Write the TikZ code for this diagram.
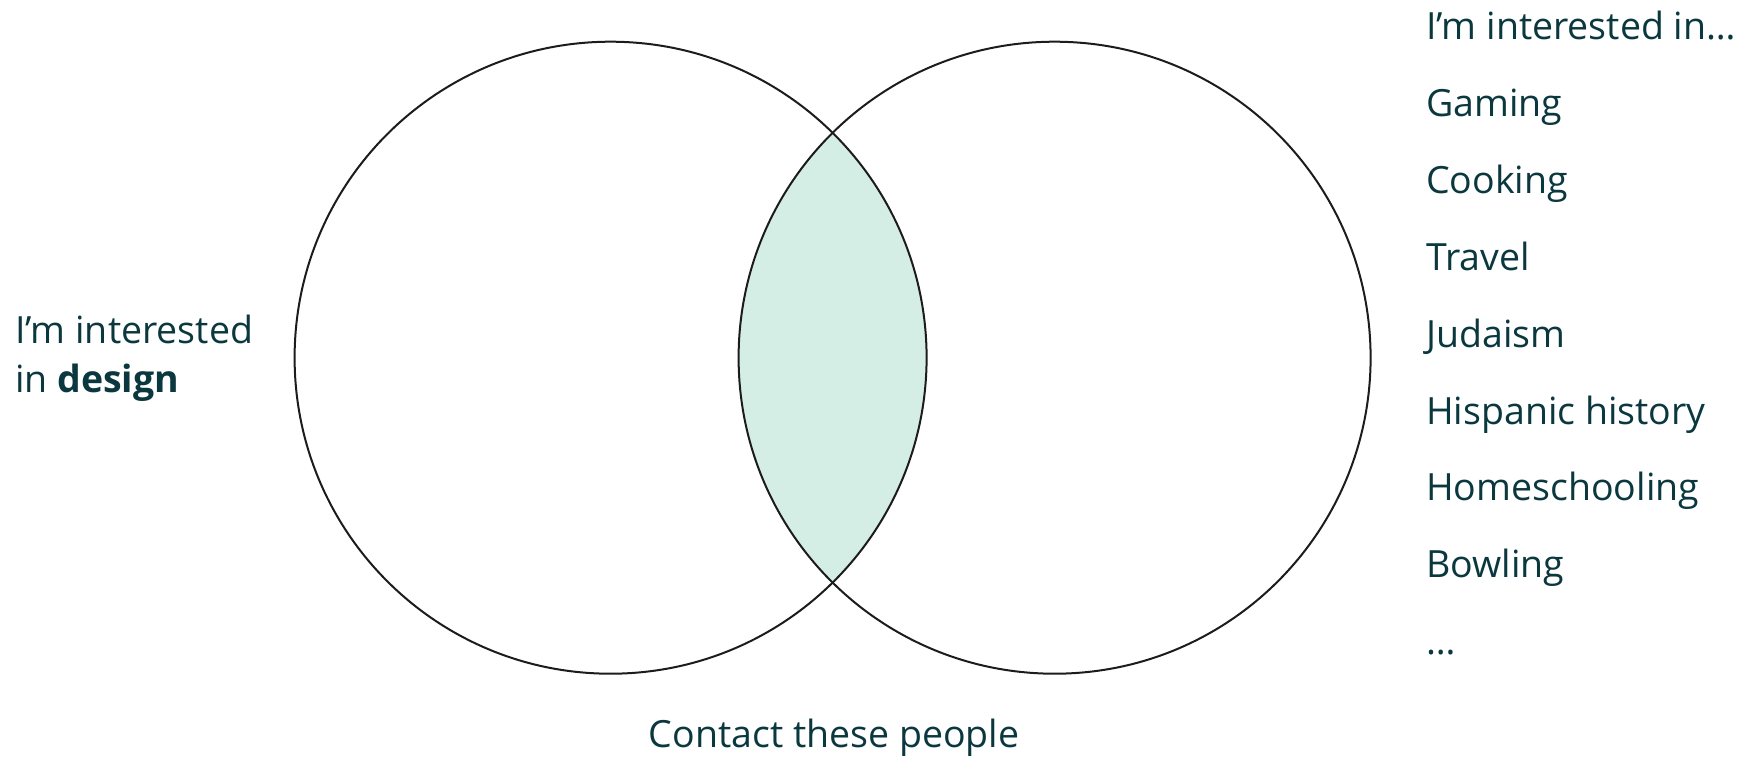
\documentclass[tikz,border=0pt]{standalone}
\usepackage{fontspec}
\setmainfont{Open Sans}
\definecolor{txt}{HTML}{0B383E}
\definecolor{lens}{HTML}{D5EEE5}
\definecolor{ring}{HTML}{1C1C1C}
\begin{document}
\begin{tikzpicture}[x=1pt,y=-1pt,
  lbl/.style={anchor=base west,inner sep=0pt,text=txt,font=\fontsize{37.5}{49}\selectfont},
  ringstyle/.style={draw=ring,line width=2pt}]
\useasboundingbox (0,0) rectangle (1747,757);
\coordinate (cl) at (610.6,357.7);
\coordinate (cr) at (1054.6,357.7);
\begin{scope}
  \clip (cl) circle (316);
  \fill[lens] (cr) circle (316);
\end{scope}
\draw[ringstyle] (cl) circle (316);
\draw[ringstyle] (cr) circle (316);
\node[lbl,align=left] (left) at (15,392) {I’m interested\\in \textbf{design}};
\node[lbl,anchor=base] (contact) at (834,747) {Contact these people};
\node[lbl] (h) at (1426,39.5) {I’m interested in…};
\node[lbl] (i1) at (1426,116.4) {Gaming};
\node[lbl] (i2) at (1426,193.3) {Cooking};
\node[lbl] (i3) at (1426,270.2) {Travel};
\node[lbl] (i4) at (1426,347.1) {Judaism};
\node[lbl] (i5) at (1426,424.0) {Hispanic history};
\node[lbl] (i6) at (1426,500.9) {Homeschooling};
\node[lbl] (i7) at (1426,577.8) {Bowling};
\node[lbl] (i8) at (1426,654.7) {…};
\end{tikzpicture}
\end{document}
